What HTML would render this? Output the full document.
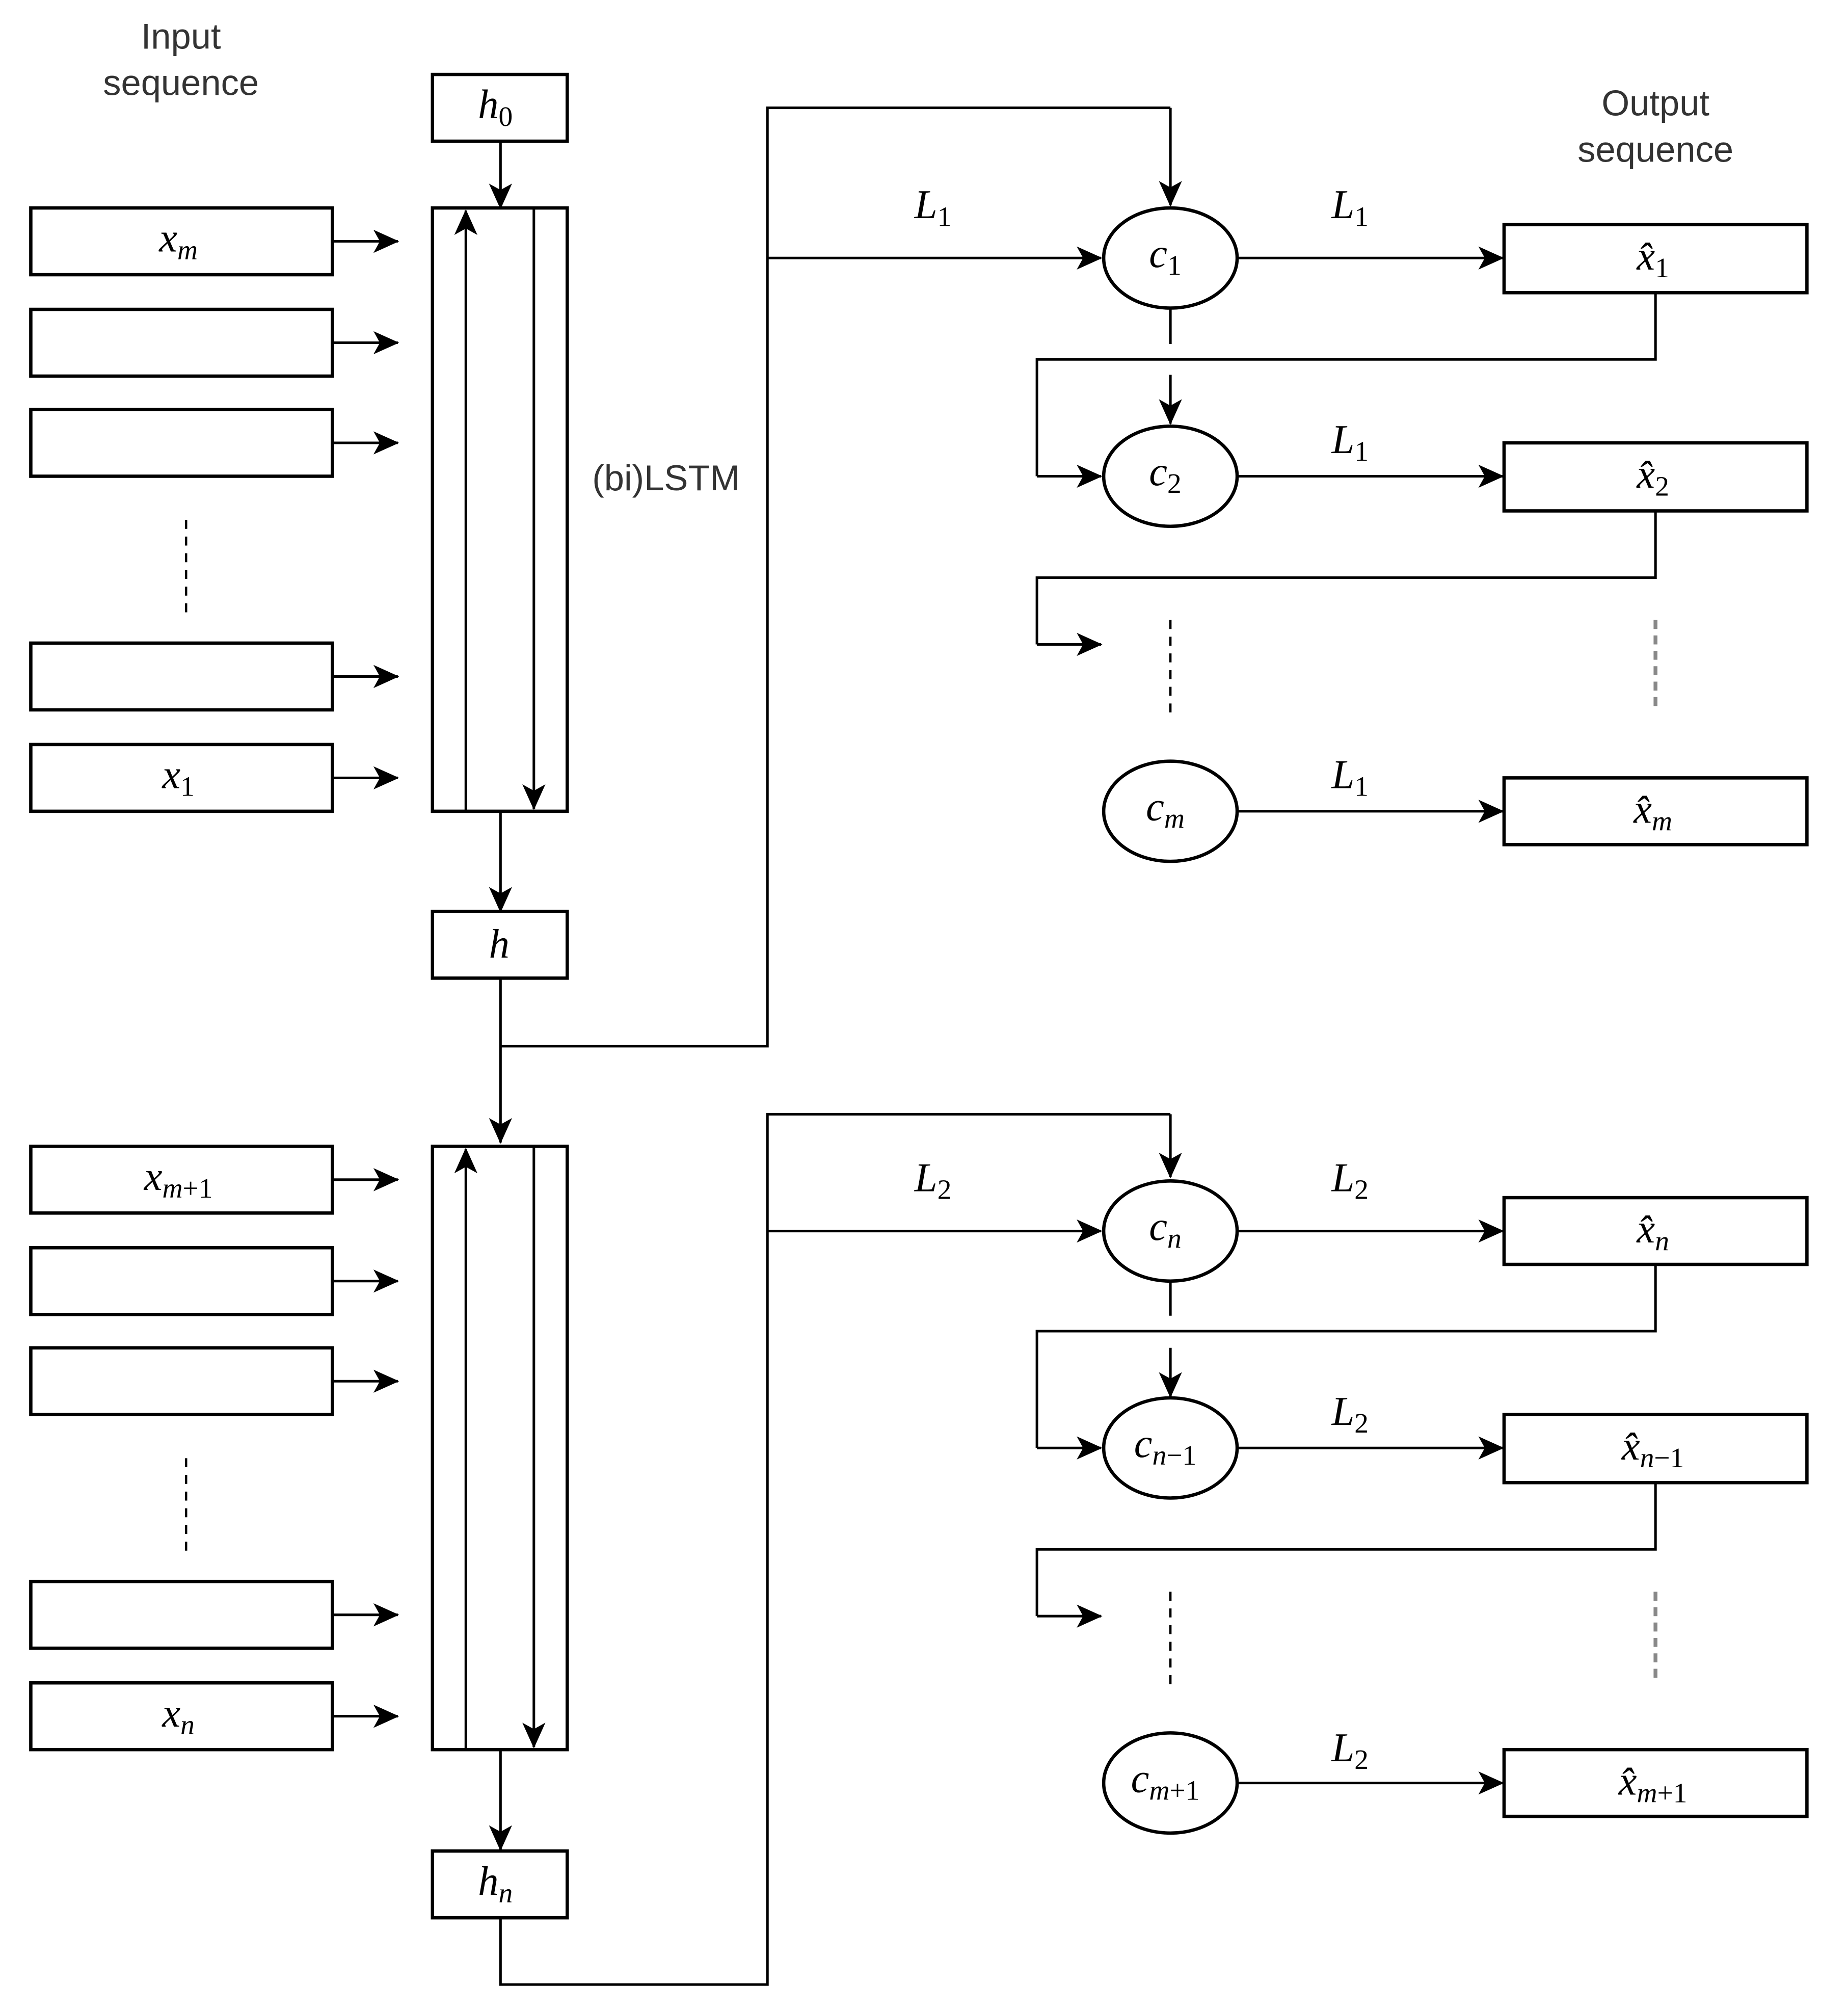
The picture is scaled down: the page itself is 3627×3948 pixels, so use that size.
<!DOCTYPE html>
<html><head><meta charset="utf-8"><style>html,body{margin:0;padding:0;background:#fff}svg{display:block}</style></head>
<body>
<svg width="3627" height="3948" viewBox="0 0 1440 1567.4" preserveAspectRatio="none" xmlns="http://www.w3.org/2000/svg">
<defs>
<marker id="a" viewBox="0 0 20 20" refX="19" refY="10" markerWidth="20" markerHeight="20" markerUnits="userSpaceOnUse" orient="auto">
<path d="M0,1 L20,10 L0,19 L5,10 Z" fill="#000"/>
</marker>
</defs>
<style>
.b{fill:#fff;stroke:#000;stroke-width:2.6}
.l{fill:none;stroke:#000;stroke-width:2}
.d{fill:none;stroke:#000;stroke-width:1.8;stroke-dasharray:7,6}
.dg{fill:none;stroke:#888;stroke-width:3;stroke-dasharray:7,5}
.t{font-family:"Liberation Sans",sans-serif;font-size:28px;fill:#333;text-anchor:middle}
.m{font-family:"Liberation Serif",serif;font-style:italic;font-size:32px;fill:#000;text-anchor:middle}
.s{font-size:22px;font-style:normal}
.si{font-size:22px}
</style>

<text class="t" x="141" y="38">Input</text>
<text class="t" x="141" y="74">sequence</text>
<text class="t" x="1290" y="90">Output</text>
<text class="t" x="1290" y="126">sequence</text>
<text class="t" x="519" y="382">(bi)LSTM</text>

<!-- upper input boxes -->
<g>
<rect class="b" x="24" y="162" width="235" height="52"/>
<rect class="b" x="24" y="241" width="235" height="52"/>
<rect class="b" x="24" y="319" width="235" height="52"/>
<rect class="b" x="24" y="501" width="235" height="52"/>
<rect class="b" x="24" y="580" width="235" height="52"/>
<path class="l" marker-end="url(#a)" d="M259,188 H310"/>
<path class="l" marker-end="url(#a)" d="M259,267 H310"/>
<path class="l" marker-end="url(#a)" d="M259,345 H310"/>
<path class="l" marker-end="url(#a)" d="M259,527 H310"/>
<path class="l" marker-end="url(#a)" d="M259,606 H310"/>
<path class="d" d="M145,405 V477"/>
<text class="m" x="139" y="196">x<tspan class="si" dy="6">m</tspan></text>
<text class="m" x="139" y="614">x<tspan class="s" dy="6">1</tspan></text>
</g>

<!-- upper LSTM -->
<rect class="b" x="337" y="58" width="105" height="52"/>
<text class="m" x="386" y="92">h<tspan class="s" dy="6">0</tspan></text>
<path class="l" marker-end="url(#a)" d="M390,110 V162"/>
<rect class="b" x="337" y="162" width="105" height="470"/>
<path class="l" marker-end="url(#a)" d="M363,632 V164"/>
<path class="l" marker-end="url(#a)" d="M416,162 V630"/>
<path class="l" marker-end="url(#a)" d="M390,632 V710"/>
<rect class="b" x="337" y="710" width="105" height="52"/>
<text class="m" x="389" y="746">h</text>
<path class="l" marker-end="url(#a)" d="M390,762 V890"/>
<path class="l" d="M390,815 H598 V84 H912"/>
<path class="l" marker-end="url(#a)" d="M912,84 V160"/>
<path class="l" marker-end="url(#a)" d="M598,201 H858"/>

<!-- lower input boxes -->
<g>
<rect class="b" x="24" y="893" width="235" height="52"/>
<rect class="b" x="24" y="972" width="235" height="52"/>
<rect class="b" x="24" y="1050" width="235" height="52"/>
<rect class="b" x="24" y="1232" width="235" height="52"/>
<rect class="b" x="24" y="1311" width="235" height="52"/>
<path class="l" marker-end="url(#a)" d="M259,919 H310"/>
<path class="l" marker-end="url(#a)" d="M259,998 H310"/>
<path class="l" marker-end="url(#a)" d="M259,1076 H310"/>
<path class="l" marker-end="url(#a)" d="M259,1258 H310"/>
<path class="l" marker-end="url(#a)" d="M259,1337 H310"/>
<path class="d" d="M145,1136 V1208"/>
<text class="m" x="139" y="927">x<tspan class="si" dy="6">m</tspan><tspan class="s">+1</tspan></text>
<text class="m" x="139" y="1345">x<tspan class="si" dy="6">n</tspan></text>
</g>

<rect class="b" x="337" y="893" width="105" height="470"/>
<path class="l" marker-end="url(#a)" d="M363,1363 V895"/>
<path class="l" marker-end="url(#a)" d="M416,893 V1361"/>
<path class="l" marker-end="url(#a)" d="M390,1363 V1441"/>
<rect class="b" x="337" y="1442" width="105" height="52"/>
<text class="m" x="386" y="1476">h<tspan class="si" dy="6">n</tspan></text>
<path class="l" d="M390,1494 V1546 H598 V868 H912"/>
<path class="l" marker-end="url(#a)" d="M912,868 V917"/>
<path class="l" marker-end="url(#a)" d="M598,959 H858"/>

<!-- upper right -->
<text class="m" x="727" y="170">L<tspan class="s" dy="6">1</tspan></text>
<ellipse class="b" cx="912" cy="201" rx="52" ry="39"/>
<text class="m" x="908" y="208">c<tspan class="s" dy="6">1</tspan></text>
<path class="l" marker-end="url(#a)" d="M964,201 H1171"/>
<text class="m" x="1052" y="170">L<tspan class="s" dy="6">1</tspan></text>
<rect class="b" x="1172" y="175" width="236" height="53"/>
<text class="m" x="1288" y="210">x̂<tspan class="s" dy="6">1</tspan></text>
<path class="l" d="M912,240 V268"/>
<path class="l" marker-end="url(#a)" d="M912,292 V330"/>
<path class="l" d="M1290,228 V280 H808 V371"/>
<path class="l" marker-end="url(#a)" d="M808,371 H858"/>

<ellipse class="b" cx="912" cy="371" rx="52" ry="39"/>
<text class="m" x="908" y="378">c<tspan class="s" dy="6">2</tspan></text>
<path class="l" marker-end="url(#a)" d="M964,371 H1171"/>
<text class="m" x="1052" y="353">L<tspan class="s" dy="6">1</tspan></text>
<rect class="b" x="1172" y="345" width="236" height="53"/>
<text class="m" x="1288" y="380">x̂<tspan class="s" dy="6">2</tspan></text>
<path class="l" d="M1290,398 V450 H808 V502"/>
<path class="l" marker-end="url(#a)" d="M808,502 H858"/>
<path class="d" d="M912,483 V555"/>
<path class="dg" d="M1290,483 V555"/>

<ellipse class="b" cx="912" cy="632" rx="52" ry="39"/>
<text class="m" x="908" y="639">c<tspan class="si" dy="6">m</tspan></text>
<path class="l" marker-end="url(#a)" d="M964,632 H1171"/>
<text class="m" x="1052" y="614">L<tspan class="s" dy="6">1</tspan></text>
<rect class="b" x="1172" y="606" width="236" height="52"/>
<text class="m" x="1288" y="641">x̂<tspan class="si" dy="6">m</tspan></text>

<!-- lower right -->
<text class="m" x="727" y="928">L<tspan class="s" dy="6">2</tspan></text>
<ellipse class="b" cx="912" cy="959" rx="52" ry="39"/>
<text class="m" x="908" y="966">c<tspan class="si" dy="6">n</tspan></text>
<path class="l" marker-end="url(#a)" d="M964,959 H1171"/>
<text class="m" x="1052" y="928">L<tspan class="s" dy="6">2</tspan></text>
<rect class="b" x="1172" y="933" width="236" height="52"/>
<text class="m" x="1288" y="968">x̂<tspan class="si" dy="6">n</tspan></text>
<path class="l" d="M912,998 V1025"/>
<path class="l" marker-end="url(#a)" d="M912,1050 V1088"/>
<path class="l" d="M1290,985 V1037 H808 V1128"/>
<path class="l" marker-end="url(#a)" d="M808,1128 H858"/>

<ellipse class="b" cx="912" cy="1128" rx="52" ry="39"/>
<text class="m" x="908" y="1135">c<tspan class="si" dy="6">n</tspan><tspan class="s">−1</tspan></text>
<path class="l" marker-end="url(#a)" d="M964,1128 H1171"/>
<text class="m" x="1052" y="1110">L<tspan class="s" dy="6">2</tspan></text>
<rect class="b" x="1172" y="1102" width="236" height="53"/>
<text class="m" x="1288" y="1137">x̂<tspan class="si" dy="6">n</tspan><tspan class="s">−1</tspan></text>
<path class="l" d="M1290,1155 V1207 H808 V1259"/>
<path class="l" marker-end="url(#a)" d="M808,1259 H858"/>
<path class="d" d="M912,1240 V1312"/>
<path class="dg" d="M1290,1240 V1312"/>

<ellipse class="b" cx="912" cy="1389" rx="52" ry="39"/>
<text class="m" x="908" y="1396">c<tspan class="si" dy="6">m</tspan><tspan class="s">+1</tspan></text>
<path class="l" marker-end="url(#a)" d="M964,1389 H1171"/>
<text class="m" x="1052" y="1372">L<tspan class="s" dy="6">2</tspan></text>
<rect class="b" x="1172" y="1363" width="236" height="52"/>
<text class="m" x="1288" y="1398">x̂<tspan class="si" dy="6">m</tspan><tspan class="s">+1</tspan></text>
</svg>
</body></html>
